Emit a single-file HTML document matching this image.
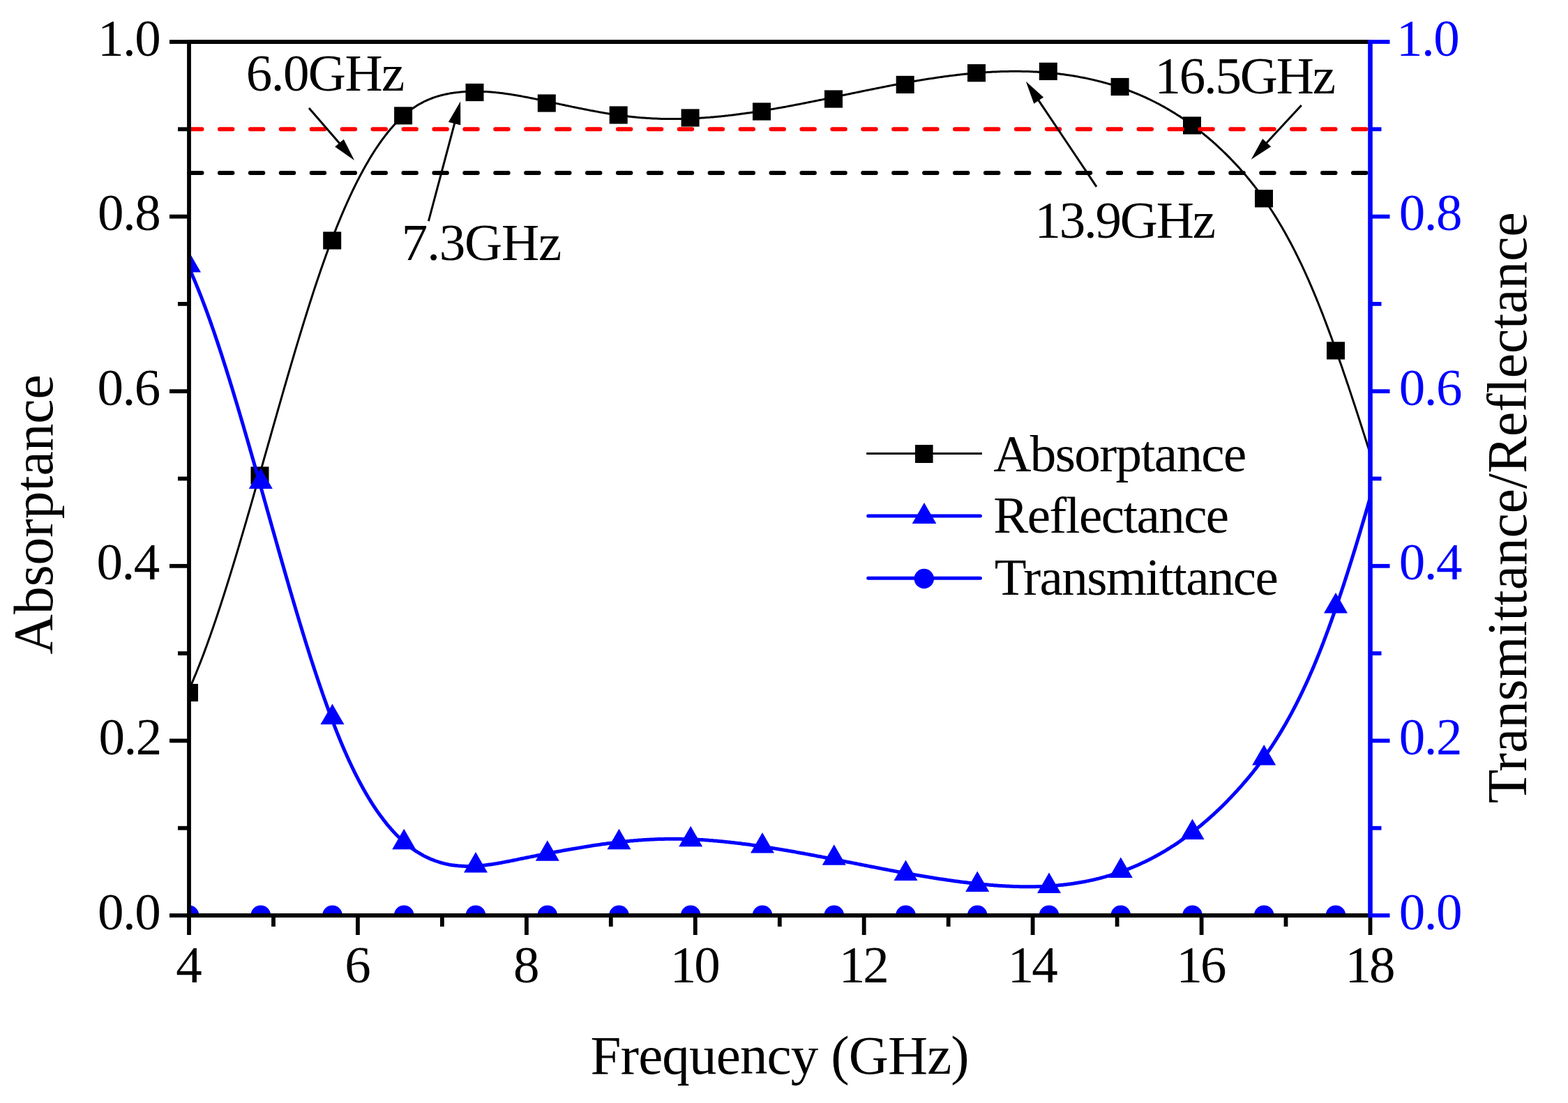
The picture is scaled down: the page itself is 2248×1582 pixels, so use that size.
<!DOCTYPE html>
<html><head><meta charset="utf-8"><style>html,body{margin:0;padding:0;background:#fff;width:2248px;height:1582px;overflow:hidden;position:relative}</style></head>
<body>
<svg width="2248" height="1582" viewBox="0 0 2248 1582" style="position:absolute;left:0;top:0;font-family:'Liberation Serif','Times New Roman',serif">
<defs><clipPath id="pc"><rect x="271.0" y="60.0" width="1693.5" height="1253.0"/></clipPath></defs>
<rect width="2248" height="1582" fill="#fff"/>
<g clip-path="url(#pc)">
<path d="M271.0,989.0 L272.5,985.7 L274.0,982.3 L275.5,978.8 L277.0,975.3 L278.5,971.7 L280.0,968.1 L281.5,964.5 L283.0,960.8 L284.5,957.0 L286.0,953.2 L287.5,949.4 L289.0,945.5 L290.5,941.6 L292.0,937.6 L293.5,933.6 L295.0,929.5 L296.5,925.4 L298.0,921.3 L299.5,917.1 L301.0,912.9 L302.5,908.6 L304.0,904.3 L305.5,900.0 L307.0,895.6 L308.5,891.2 L310.0,886.8 L311.5,882.3 L313.0,877.8 L314.5,873.2 L316.0,868.7 L317.5,864.0 L319.0,859.4 L320.5,854.7 L322.0,850.0 L323.5,845.3 L325.0,840.6 L326.5,835.8 L328.0,831.0 L329.5,826.1 L331.0,821.3 L332.5,816.4 L334.0,811.5 L335.5,806.5 L337.0,801.6 L338.5,796.6 L340.0,791.6 L341.5,786.6 L343.0,781.6 L344.5,776.5 L346.0,771.4 L347.5,766.4 L349.0,761.2 L350.5,756.1 L352.0,751.0 L353.5,745.8 L355.0,740.7 L356.5,735.5 L358.0,730.3 L359.5,725.1 L361.0,719.9 L362.5,714.7 L364.0,709.4 L365.5,704.2 L367.0,698.9 L368.5,693.7 L370.0,688.4 L371.5,683.1 L373.0,677.9 L374.5,672.6 L376.0,667.3 L377.5,662.0 L379.0,656.7 L380.5,651.4 L382.0,646.1 L383.5,640.8 L385.0,635.5 L386.5,630.3 L388.0,625.0 L389.5,619.7 L391.0,614.4 L392.5,609.1 L394.0,603.8 L395.5,598.6 L397.0,593.3 L398.5,588.0 L400.0,582.8 L401.5,577.6 L403.0,572.3 L404.5,567.1 L406.0,561.9 L407.5,556.7 L409.0,551.5 L410.5,546.3 L412.0,541.2 L413.5,536.0 L415.0,530.9 L416.5,525.8 L418.0,520.6 L419.5,515.6 L421.0,510.5 L422.5,505.4 L424.0,500.4 L425.5,495.4 L427.0,490.4 L428.5,485.4 L430.0,480.5 L431.5,475.5 L433.0,470.6 L434.5,465.8 L436.0,460.9 L437.5,456.1 L439.0,451.3 L440.5,446.5 L442.0,441.7 L443.5,437.0 L445.0,432.3 L446.5,427.7 L448.0,423.0 L449.5,418.4 L451.0,413.8 L452.5,409.3 L454.0,404.8 L455.5,400.3 L457.0,395.9 L458.5,391.5 L460.0,387.1 L461.5,382.8 L463.0,378.5 L464.5,374.2 L466.0,370.0 L467.5,365.8 L469.0,361.7 L470.5,357.6 L472.0,353.6 L473.5,349.5 L475.0,345.6 L476.5,341.6 L478.0,337.8 L479.5,333.9 L481.0,330.1 L482.5,326.3 L484.0,322.6 L485.5,318.9 L487.0,315.3 L488.5,311.7 L490.0,308.1 L491.5,304.6 L493.0,301.1 L494.5,297.7 L496.0,294.3 L497.5,290.9 L499.0,287.6 L500.5,284.3 L502.0,281.0 L503.5,277.8 L505.0,274.7 L506.5,271.5 L508.0,268.5 L509.5,265.4 L511.0,262.4 L512.5,259.4 L514.0,256.5 L515.5,253.6 L517.0,250.8 L518.5,247.9 L520.0,245.2 L521.5,242.4 L523.0,239.7 L524.5,237.1 L526.0,234.4 L527.5,231.9 L529.0,229.3 L530.5,226.8 L532.0,224.3 L533.5,221.9 L535.0,219.5 L536.5,217.1 L538.0,214.8 L539.5,212.5 L541.0,210.3 L542.5,208.1 L544.0,205.9 L545.5,203.8 L547.0,201.7 L548.5,199.6 L550.0,197.6 L551.5,195.6 L553.0,193.6 L554.5,191.7 L556.0,189.8 L557.5,188.0 L559.0,186.2 L560.5,184.4 L562.0,182.7 L563.5,181.0 L565.0,179.3 L566.5,177.7 L568.0,176.1 L569.5,174.5 L571.0,173.0 L572.5,171.5 L574.0,170.0 L575.5,168.6 L577.0,167.2 L578.5,165.9 L580.0,164.6 L581.5,163.3 L583.0,162.1 L584.5,160.8 L586.0,159.7 L587.5,158.5 L589.0,157.4 L590.5,156.3 L592.0,155.3 L593.5,154.2 L595.0,153.2 L596.5,152.3 L598.0,151.3 L599.5,150.4 L601.0,149.5 L602.5,148.7 L604.0,147.9 L605.5,147.1 L607.0,146.3 L608.5,145.5 L610.0,144.8 L611.5,144.1 L613.0,143.5 L614.5,142.8 L616.0,142.2 L617.5,141.6 L619.0,141.0 L620.5,140.4 L622.0,139.9 L623.5,139.4 L625.0,138.9 L626.5,138.4 L628.0,138.0 L629.5,137.5 L631.0,137.1 L632.5,136.7 L634.0,136.3 L635.5,136.0 L637.0,135.6 L638.5,135.3 L640.0,135.0 L641.5,134.7 L643.0,134.4 L644.5,134.1 L646.0,133.8 L647.5,133.6 L649.0,133.4 L650.5,133.1 L652.0,132.9 L653.5,132.7 L655.0,132.6 L656.5,132.4 L658.0,132.2 L659.5,132.1 L661.0,131.9 L662.5,131.8 L664.0,131.7 L665.5,131.6 L667.0,131.5 L668.5,131.4 L670.0,131.3 L671.5,131.3 L673.0,131.2 L674.5,131.1 L676.0,131.1 L677.5,131.1 L679.0,131.1 L680.5,131.1 L682.0,131.1 L683.5,131.1 L685.0,131.1 L686.5,131.1 L688.0,131.1 L689.5,131.2 L691.0,131.2 L692.5,131.3 L694.0,131.4 L695.5,131.4 L697.0,131.5 L698.5,131.6 L700.0,131.7 L701.5,131.8 L703.0,131.9 L704.5,132.0 L706.0,132.2 L707.5,132.3 L709.0,132.4 L710.5,132.6 L712.0,132.8 L713.5,132.9 L715.0,133.1 L716.5,133.3 L718.0,133.4 L719.5,133.6 L721.0,133.8 L722.5,134.0 L724.0,134.2 L725.5,134.4 L727.0,134.6 L728.5,134.9 L730.0,135.1 L731.5,135.3 L733.0,135.5 L734.5,135.8 L736.0,136.0 L737.5,136.3 L739.0,136.5 L740.5,136.8 L742.0,137.0 L743.5,137.3 L745.0,137.6 L746.5,137.8 L748.0,138.1 L749.5,138.4 L751.0,138.7 L752.5,138.9 L754.0,139.2 L755.5,139.5 L757.0,139.8 L758.5,140.1 L760.0,140.4 L761.5,140.7 L763.0,141.0 L764.5,141.3 L766.0,141.6 L767.5,141.9 L769.0,142.2 L770.5,142.5 L772.0,142.9 L773.5,143.2 L775.0,143.5 L776.5,143.8 L778.0,144.1 L779.5,144.4 L781.0,144.8 L782.5,145.1 L784.0,145.4 L785.5,145.7 L787.0,146.0 L788.5,146.4 L790.0,146.7 L791.5,147.0 L793.0,147.3 L794.5,147.6 L796.0,148.0 L797.5,148.3 L799.0,148.6 L800.5,148.9 L802.0,149.3 L803.5,149.6 L805.0,149.9 L806.5,150.2 L808.0,150.5 L809.5,150.8 L811.0,151.2 L812.5,151.5 L814.0,151.8 L815.5,152.1 L817.0,152.4 L818.5,152.7 L820.0,153.1 L821.5,153.4 L823.0,153.7 L824.5,154.0 L826.0,154.3 L827.5,154.6 L829.0,154.9 L830.5,155.2 L832.0,155.5 L833.5,155.8 L835.0,156.1 L836.5,156.4 L838.0,156.7 L839.5,157.0 L841.0,157.3 L842.5,157.6 L844.0,157.9 L845.5,158.2 L847.0,158.5 L848.5,158.7 L850.0,159.0 L851.5,159.3 L853.0,159.6 L854.5,159.9 L856.0,160.1 L857.5,160.4 L859.0,160.7 L860.5,160.9 L862.0,161.2 L863.5,161.5 L865.0,161.7 L866.5,162.0 L868.0,162.2 L869.5,162.5 L871.0,162.7 L872.5,163.0 L874.0,163.2 L875.5,163.5 L877.0,163.7 L878.5,163.9 L880.0,164.1 L881.5,164.4 L883.0,164.6 L884.5,164.8 L886.0,165.0 L887.5,165.2 L889.0,165.4 L890.5,165.7 L892.0,165.9 L893.5,166.1 L895.0,166.2 L896.5,166.4 L898.0,166.6 L899.5,166.8 L901.0,167.0 L902.5,167.2 L904.0,167.3 L905.5,167.5 L907.0,167.7 L908.5,167.8 L910.0,168.0 L911.5,168.1 L913.0,168.3 L914.5,168.4 L916.0,168.5 L917.5,168.7 L919.0,168.8 L920.5,168.9 L922.0,169.0 L923.5,169.1 L925.0,169.2 L926.5,169.3 L928.0,169.4 L929.5,169.5 L931.0,169.6 L932.5,169.7 L934.0,169.8 L935.5,169.9 L937.0,170.0 L938.5,170.0 L940.0,170.1 L941.5,170.1 L943.0,170.2 L944.5,170.3 L946.0,170.3 L947.5,170.4 L949.0,170.4 L950.5,170.4 L952.0,170.5 L953.5,170.5 L955.0,170.5 L956.5,170.5 L958.0,170.5 L959.5,170.6 L961.0,170.6 L962.5,170.6 L964.0,170.6 L965.5,170.6 L967.0,170.6 L968.5,170.6 L970.0,170.5 L971.5,170.5 L973.0,170.5 L974.5,170.5 L976.0,170.4 L977.5,170.4 L979.0,170.4 L980.5,170.3 L982.0,170.3 L983.5,170.3 L985.0,170.2 L986.5,170.1 L988.0,170.1 L989.5,170.0 L991.0,170.0 L992.5,169.9 L994.0,169.8 L995.5,169.8 L997.0,169.7 L998.5,169.6 L1000.0,169.5 L1001.5,169.4 L1003.0,169.3 L1004.5,169.2 L1006.0,169.1 L1007.5,169.0 L1009.0,168.9 L1010.5,168.8 L1012.0,168.7 L1013.5,168.6 L1015.0,168.5 L1016.5,168.4 L1018.0,168.3 L1019.5,168.1 L1021.0,168.0 L1022.5,167.9 L1024.0,167.7 L1025.5,167.6 L1027.0,167.5 L1028.5,167.3 L1030.0,167.2 L1031.5,167.0 L1033.0,166.9 L1034.5,166.7 L1036.0,166.6 L1037.5,166.4 L1039.0,166.3 L1040.5,166.1 L1042.0,165.9 L1043.5,165.8 L1045.0,165.6 L1046.5,165.4 L1048.0,165.2 L1049.5,165.1 L1051.0,164.9 L1052.5,164.7 L1054.0,164.5 L1055.5,164.3 L1057.0,164.1 L1058.5,163.9 L1060.0,163.7 L1061.5,163.5 L1063.0,163.3 L1064.5,163.1 L1066.0,162.9 L1067.5,162.7 L1069.0,162.5 L1070.5,162.3 L1072.0,162.1 L1073.5,161.9 L1075.0,161.7 L1076.5,161.4 L1078.0,161.2 L1079.5,161.0 L1081.0,160.8 L1082.5,160.5 L1084.0,160.3 L1085.5,160.1 L1087.0,159.8 L1088.5,159.6 L1090.0,159.4 L1091.5,159.1 L1093.0,158.9 L1094.5,158.6 L1096.0,158.4 L1097.5,158.2 L1099.0,157.9 L1100.5,157.7 L1102.0,157.4 L1103.5,157.1 L1105.0,156.9 L1106.5,156.6 L1108.0,156.4 L1109.5,156.1 L1111.0,155.9 L1112.5,155.6 L1114.0,155.3 L1115.5,155.1 L1117.0,154.8 L1118.5,154.5 L1120.0,154.3 L1121.5,154.0 L1123.0,153.7 L1124.5,153.4 L1126.0,153.2 L1127.5,152.9 L1129.0,152.6 L1130.5,152.3 L1132.0,152.0 L1133.5,151.8 L1135.0,151.5 L1136.5,151.2 L1138.0,150.9 L1139.5,150.6 L1141.0,150.3 L1142.5,150.0 L1144.0,149.8 L1145.5,149.5 L1147.0,149.2 L1148.5,148.9 L1150.0,148.6 L1151.5,148.3 L1153.0,148.0 L1154.5,147.7 L1156.0,147.4 L1157.5,147.1 L1159.0,146.8 L1160.5,146.5 L1162.0,146.2 L1163.5,145.9 L1165.0,145.6 L1166.5,145.3 L1168.0,145.0 L1169.5,144.7 L1171.0,144.4 L1172.5,144.1 L1174.0,143.8 L1175.5,143.5 L1177.0,143.2 L1178.5,142.9 L1180.0,142.6 L1181.5,142.2 L1183.0,141.9 L1184.5,141.6 L1186.0,141.3 L1187.5,141.0 L1189.0,140.7 L1190.5,140.4 L1192.0,140.1 L1193.5,139.8 L1195.0,139.5 L1196.5,139.1 L1198.0,138.8 L1199.5,138.5 L1201.0,138.2 L1202.5,137.9 L1204.0,137.6 L1205.5,137.3 L1207.0,137.0 L1208.5,136.6 L1210.0,136.3 L1211.5,136.0 L1213.0,135.7 L1214.5,135.4 L1216.0,135.1 L1217.5,134.8 L1219.0,134.5 L1220.5,134.1 L1222.0,133.8 L1223.5,133.5 L1225.0,133.2 L1226.5,132.9 L1228.0,132.6 L1229.5,132.3 L1231.0,132.0 L1232.5,131.7 L1234.0,131.3 L1235.5,131.0 L1237.0,130.7 L1238.5,130.4 L1240.0,130.1 L1241.5,129.8 L1243.0,129.5 L1244.5,129.2 L1246.0,128.9 L1247.5,128.6 L1249.0,128.3 L1250.5,128.0 L1252.0,127.7 L1253.5,127.4 L1255.0,127.1 L1256.5,126.8 L1258.0,126.5 L1259.5,126.2 L1261.0,125.9 L1262.5,125.6 L1264.0,125.3 L1265.5,125.0 L1267.0,124.7 L1268.5,124.4 L1270.0,124.1 L1271.5,123.8 L1273.0,123.5 L1274.5,123.2 L1276.0,122.9 L1277.5,122.6 L1279.0,122.3 L1280.5,122.1 L1282.0,121.8 L1283.5,121.5 L1285.0,121.2 L1286.5,120.9 L1288.0,120.6 L1289.5,120.4 L1291.0,120.1 L1292.5,119.8 L1294.0,119.5 L1295.5,119.3 L1297.0,119.0 L1298.5,118.7 L1300.0,118.4 L1301.5,118.2 L1303.0,117.9 L1304.5,117.6 L1306.0,117.4 L1307.5,117.1 L1309.0,116.8 L1310.5,116.6 L1312.0,116.3 L1313.5,116.1 L1315.0,115.8 L1316.5,115.6 L1318.0,115.3 L1319.5,115.1 L1321.0,114.8 L1322.5,114.6 L1324.0,114.3 L1325.5,114.1 L1327.0,113.8 L1328.5,113.6 L1330.0,113.3 L1331.5,113.1 L1333.0,112.9 L1334.5,112.6 L1336.0,112.4 L1337.5,112.2 L1339.0,112.0 L1340.5,111.7 L1342.0,111.5 L1343.5,111.3 L1345.0,111.1 L1346.5,110.9 L1348.0,110.6 L1349.5,110.4 L1351.0,110.2 L1352.5,110.0 L1354.0,109.8 L1355.5,109.6 L1357.0,109.4 L1358.5,109.2 L1360.0,109.0 L1361.5,108.8 L1363.0,108.6 L1364.5,108.4 L1366.0,108.2 L1367.5,108.1 L1369.0,107.9 L1370.5,107.7 L1372.0,107.5 L1373.5,107.3 L1375.0,107.2 L1376.5,107.0 L1378.0,106.8 L1379.5,106.7 L1381.0,106.5 L1382.5,106.3 L1384.0,106.2 L1385.5,106.0 L1387.0,105.9 L1388.5,105.7 L1390.0,105.6 L1391.5,105.4 L1393.0,105.3 L1394.5,105.2 L1396.0,105.0 L1397.5,104.9 L1399.0,104.8 L1400.5,104.7 L1402.0,104.5 L1403.5,104.4 L1405.0,104.3 L1406.5,104.2 L1408.0,104.1 L1409.5,104.0 L1411.0,103.9 L1412.5,103.8 L1414.0,103.7 L1415.5,103.6 L1417.0,103.5 L1418.5,103.4 L1420.0,103.3 L1421.5,103.2 L1423.0,103.1 L1424.5,103.1 L1426.0,103.0 L1427.5,102.9 L1429.0,102.9 L1430.5,102.8 L1432.0,102.7 L1433.5,102.7 L1435.0,102.6 L1436.5,102.6 L1438.0,102.5 L1439.5,102.5 L1441.0,102.5 L1442.5,102.4 L1444.0,102.4 L1445.5,102.4 L1447.0,102.3 L1448.5,102.3 L1450.0,102.3 L1451.5,102.3 L1453.0,102.3 L1454.5,102.3 L1456.0,102.3 L1457.5,102.3 L1459.0,102.3 L1460.5,102.3 L1462.0,102.3 L1463.5,102.3 L1465.0,102.4 L1466.5,102.4 L1468.0,102.4 L1469.5,102.5 L1471.0,102.5 L1472.5,102.5 L1474.0,102.6 L1475.5,102.6 L1477.0,102.7 L1478.5,102.8 L1480.0,102.8 L1481.5,102.9 L1483.0,103.0 L1484.5,103.0 L1486.0,103.1 L1487.5,103.2 L1489.0,103.3 L1490.5,103.4 L1492.0,103.5 L1493.5,103.6 L1495.0,103.7 L1496.5,103.8 L1498.0,103.9 L1499.5,104.0 L1501.0,104.2 L1502.5,104.3 L1504.0,104.4 L1505.5,104.6 L1507.0,104.7 L1508.5,104.8 L1510.0,105.0 L1511.5,105.2 L1513.0,105.3 L1514.5,105.5 L1516.0,105.7 L1517.5,105.8 L1519.0,106.0 L1520.5,106.2 L1522.0,106.4 L1523.5,106.6 L1525.0,106.8 L1526.5,107.0 L1528.0,107.2 L1529.5,107.4 L1531.0,107.6 L1532.5,107.9 L1534.0,108.1 L1535.5,108.3 L1537.0,108.6 L1538.5,108.8 L1540.0,109.0 L1541.5,109.3 L1543.0,109.6 L1544.5,109.8 L1546.0,110.1 L1547.5,110.4 L1549.0,110.7 L1550.5,110.9 L1552.0,111.2 L1553.5,111.5 L1555.0,111.8 L1556.5,112.1 L1558.0,112.4 L1559.5,112.8 L1561.0,113.1 L1562.5,113.4 L1564.0,113.8 L1565.5,114.1 L1567.0,114.4 L1568.5,114.8 L1570.0,115.1 L1571.5,115.5 L1573.0,115.9 L1574.5,116.2 L1576.0,116.6 L1577.5,117.0 L1579.0,117.4 L1580.5,117.8 L1582.0,118.2 L1583.5,118.6 L1585.0,119.0 L1586.5,119.4 L1588.0,119.9 L1589.5,120.3 L1591.0,120.7 L1592.5,121.2 L1594.0,121.6 L1595.5,122.1 L1597.0,122.6 L1598.5,123.0 L1600.0,123.5 L1601.5,124.0 L1603.0,124.5 L1604.5,125.0 L1606.0,125.5 L1607.5,126.0 L1609.0,126.5 L1610.5,127.0 L1612.0,127.6 L1613.5,128.1 L1615.0,128.6 L1616.5,129.2 L1618.0,129.7 L1619.5,130.3 L1621.0,130.9 L1622.5,131.5 L1624.0,132.1 L1625.5,132.7 L1627.0,133.3 L1628.5,133.9 L1630.0,134.5 L1631.5,135.1 L1633.0,135.7 L1634.5,136.4 L1636.0,137.0 L1637.5,137.7 L1639.0,138.4 L1640.5,139.0 L1642.0,139.7 L1643.5,140.4 L1645.0,141.1 L1646.5,141.8 L1648.0,142.5 L1649.5,143.2 L1651.0,144.0 L1652.5,144.7 L1654.0,145.5 L1655.5,146.2 L1657.0,147.0 L1658.5,147.8 L1660.0,148.5 L1661.5,149.3 L1663.0,150.1 L1664.5,151.0 L1666.0,151.8 L1667.5,152.6 L1669.0,153.4 L1670.5,154.3 L1672.0,155.1 L1673.5,156.0 L1675.0,156.9 L1676.5,157.8 L1678.0,158.7 L1679.5,159.6 L1681.0,160.5 L1682.5,161.4 L1684.0,162.3 L1685.5,163.3 L1687.0,164.2 L1688.5,165.2 L1690.0,166.1 L1691.5,167.1 L1693.0,168.1 L1694.5,169.1 L1696.0,170.1 L1697.5,171.1 L1699.0,172.2 L1700.5,173.2 L1702.0,174.3 L1703.5,175.3 L1705.0,176.4 L1706.5,177.5 L1708.0,178.6 L1709.5,179.7 L1711.0,180.8 L1712.5,181.9 L1714.0,183.0 L1715.5,184.2 L1717.0,185.3 L1718.5,186.5 L1720.0,187.7 L1721.5,188.9 L1723.0,190.1 L1724.5,191.3 L1726.0,192.5 L1727.5,193.8 L1729.0,195.0 L1730.5,196.3 L1732.0,197.5 L1733.5,198.8 L1735.0,200.1 L1736.5,201.4 L1738.0,202.7 L1739.5,204.0 L1741.0,205.4 L1742.5,206.7 L1744.0,208.1 L1745.5,209.5 L1747.0,210.9 L1748.5,212.3 L1750.0,213.7 L1751.5,215.1 L1753.0,216.5 L1754.5,218.0 L1756.0,219.4 L1757.5,220.9 L1759.0,222.4 L1760.5,223.9 L1762.0,225.4 L1763.5,226.9 L1765.0,228.5 L1766.5,230.0 L1768.0,231.6 L1769.5,233.2 L1771.0,234.8 L1772.5,236.4 L1774.0,238.0 L1775.5,239.6 L1777.0,241.3 L1778.5,243.0 L1780.0,244.7 L1781.5,246.4 L1783.0,248.1 L1784.5,249.9 L1786.0,251.6 L1787.5,253.4 L1789.0,255.2 L1790.5,257.0 L1792.0,258.9 L1793.5,260.7 L1795.0,262.6 L1796.5,264.5 L1798.0,266.4 L1799.5,268.4 L1801.0,270.3 L1802.5,272.3 L1804.0,274.3 L1805.5,276.3 L1807.0,278.4 L1808.5,280.5 L1810.0,282.6 L1811.5,284.7 L1813.0,286.8 L1814.5,289.0 L1816.0,291.2 L1817.5,293.4 L1819.0,295.6 L1820.5,297.9 L1822.0,300.2 L1823.5,302.5 L1825.0,304.8 L1826.5,307.2 L1828.0,309.6 L1829.5,312.0 L1831.0,314.4 L1832.5,316.9 L1834.0,319.4 L1835.5,321.9 L1837.0,324.5 L1838.5,327.1 L1840.0,329.7 L1841.5,332.3 L1843.0,335.0 L1844.5,337.7 L1846.0,340.4 L1847.5,343.2 L1849.0,346.0 L1850.5,348.8 L1852.0,351.6 L1853.5,354.5 L1855.0,357.4 L1856.5,360.4 L1858.0,363.3 L1859.5,366.4 L1861.0,369.4 L1862.5,372.5 L1864.0,375.6 L1865.5,378.7 L1867.0,381.9 L1868.5,385.1 L1870.0,388.4 L1871.5,391.7 L1873.0,395.0 L1874.5,398.3 L1876.0,401.7 L1877.5,405.1 L1879.0,408.6 L1880.5,412.1 L1882.0,415.6 L1883.5,419.2 L1885.0,422.8 L1886.5,426.4 L1888.0,430.1 L1889.5,433.8 L1891.0,437.5 L1892.5,441.3 L1894.0,445.1 L1895.5,448.9 L1897.0,452.8 L1898.5,456.7 L1900.0,460.6 L1901.5,464.6 L1903.0,468.6 L1904.5,472.6 L1906.0,476.6 L1907.5,480.7 L1909.0,484.8 L1910.5,488.9 L1912.0,493.1 L1913.5,497.2 L1915.0,501.4 L1916.5,505.7 L1918.0,509.9 L1919.5,514.2 L1921.0,518.5 L1922.5,522.8 L1924.0,527.1 L1925.5,531.5 L1927.0,535.9 L1928.5,540.3 L1930.0,544.7 L1931.5,549.2 L1933.0,553.6 L1934.5,558.1 L1936.0,562.6 L1937.5,567.1 L1939.0,571.7 L1940.5,576.2 L1942.0,580.8 L1943.5,585.4 L1945.0,590.0 L1946.5,594.6 L1948.0,599.2 L1949.5,603.9 L1951.0,608.5 L1952.5,613.2 L1954.0,617.9 L1955.5,622.6 L1957.0,627.3 L1958.5,632.0 L1960.0,636.8 L1961.5,641.5 L1963.0,646.2 L1964.5,651.0" fill="none" stroke="#000" stroke-width="3" stroke-linejoin="round"/>
<rect x="258.0" y="980.9" width="26" height="25.2" fill="#000"/>
<rect x="359.5" y="669.4" width="26" height="25.2" fill="#000"/>
<rect x="463.2" y="332.4" width="26" height="25.2" fill="#000"/>
<rect x="565.1" y="153.3" width="26" height="25.2" fill="#000"/>
<rect x="667.5" y="119.9" width="26" height="25.2" fill="#000"/>
<rect x="770.8" y="135.4" width="26" height="25.2" fill="#000"/>
<rect x="873.7" y="152.4" width="26" height="25.2" fill="#000"/>
<rect x="976.6" y="156.4" width="26" height="25.2" fill="#000"/>
<rect x="1079.0" y="147.4" width="26" height="25.2" fill="#000"/>
<rect x="1182.0" y="129.4" width="26" height="25.2" fill="#000"/>
<rect x="1284.7" y="108.8" width="26" height="25.2" fill="#000"/>
<rect x="1387.0" y="92.1" width="26" height="25.2" fill="#000"/>
<rect x="1489.8" y="89.8" width="26" height="25.2" fill="#000"/>
<rect x="1592.6" y="111.9" width="26" height="25.2" fill="#000"/>
<rect x="1696.0" y="167.4" width="26" height="25.2" fill="#000"/>
<rect x="1799.0" y="272.2" width="26" height="25.2" fill="#000"/>
<rect x="1902.0" y="490.3" width="26" height="25.2" fill="#000"/>
<path d="M271.0,384.3 L272.5,387.6 L274.0,390.9 L275.5,394.3 L277.0,397.8 L278.5,401.3 L280.0,404.8 L281.5,408.4 L283.0,412.1 L284.5,415.8 L286.0,419.6 L287.5,423.4 L289.0,427.2 L290.5,431.1 L292.0,435.1 L293.5,439.0 L295.0,443.1 L296.5,447.2 L298.0,451.3 L299.5,455.4 L301.0,459.6 L302.5,463.9 L304.0,468.2 L305.5,472.5 L307.0,476.8 L308.5,481.2 L310.0,485.7 L311.5,490.1 L313.0,494.6 L314.5,499.2 L316.0,503.8 L317.5,508.4 L319.0,513.0 L320.5,517.7 L322.0,522.4 L323.5,527.1 L325.0,531.9 L326.5,536.7 L328.0,541.5 L329.5,546.3 L331.0,551.2 L332.5,556.1 L334.0,561.0 L335.5,566.0 L337.0,570.9 L338.5,575.9 L340.0,580.9 L341.5,586.0 L343.0,591.0 L344.5,596.1 L346.0,601.2 L347.5,606.3 L349.0,611.4 L350.5,616.6 L352.0,621.7 L353.5,626.9 L355.0,632.1 L356.5,637.3 L358.0,642.5 L359.5,647.8 L361.0,653.0 L362.5,658.3 L364.0,663.5 L365.5,668.8 L367.0,674.1 L368.5,679.4 L370.0,684.7 L371.5,690.0 L373.0,695.3 L374.5,700.6 L376.0,705.9 L377.5,711.2 L379.0,716.6 L380.5,721.9 L382.0,727.2 L383.5,732.6 L385.0,737.9 L386.5,743.2 L388.0,748.5 L389.5,753.9 L391.0,759.2 L392.5,764.5 L394.0,769.8 L395.5,775.1 L397.0,780.4 L398.5,785.7 L400.0,791.0 L401.5,796.3 L403.0,801.5 L404.5,806.8 L406.0,812.0 L407.5,817.3 L409.0,822.5 L410.5,827.7 L412.0,832.9 L413.5,838.1 L415.0,843.2 L416.5,848.4 L418.0,853.5 L419.5,858.6 L421.0,863.7 L422.5,868.8 L424.0,873.9 L425.5,878.9 L427.0,883.9 L428.5,888.9 L430.0,893.9 L431.5,898.8 L433.0,903.8 L434.5,908.7 L436.0,913.5 L437.5,918.4 L439.0,923.2 L440.5,928.0 L442.0,932.8 L443.5,937.5 L445.0,942.2 L446.5,946.9 L448.0,951.5 L449.5,956.1 L451.0,960.7 L452.5,965.3 L454.0,969.8 L455.5,974.3 L457.0,978.7 L458.5,983.1 L460.0,987.5 L461.5,991.9 L463.0,996.2 L464.5,1000.5 L466.0,1004.7 L467.5,1008.9 L469.0,1013.1 L470.5,1017.2 L472.0,1021.3 L473.5,1025.3 L475.0,1029.3 L476.5,1033.3 L478.0,1037.2 L479.5,1041.1 L481.0,1045.0 L482.5,1048.8 L484.0,1052.6 L485.5,1056.3 L487.0,1060.0 L488.5,1063.6 L490.0,1067.2 L491.5,1070.7 L493.0,1074.2 L494.5,1077.7 L496.0,1081.1 L497.5,1084.5 L499.0,1087.8 L500.5,1091.1 L502.0,1094.3 L503.5,1097.5 L505.0,1100.6 L506.5,1103.7 L508.0,1106.8 L509.5,1109.8 L511.0,1112.8 L512.5,1115.7 L514.0,1118.6 L515.5,1121.5 L517.0,1124.3 L518.5,1127.0 L520.0,1129.8 L521.5,1132.5 L523.0,1135.1 L524.5,1137.7 L526.0,1140.3 L527.5,1142.8 L529.0,1145.3 L530.5,1147.7 L532.0,1150.1 L533.5,1152.5 L535.0,1154.8 L536.5,1157.1 L538.0,1159.4 L539.5,1161.6 L541.0,1163.8 L542.5,1165.9 L544.0,1168.0 L545.5,1170.1 L547.0,1172.1 L548.5,1174.1 L550.0,1176.1 L551.5,1178.0 L553.0,1179.9 L554.5,1181.8 L556.0,1183.6 L557.5,1185.4 L559.0,1187.1 L560.5,1188.9 L562.0,1190.5 L563.5,1192.2 L565.0,1193.8 L566.5,1195.4 L568.0,1197.0 L569.5,1198.5 L571.0,1200.0 L572.5,1201.4 L574.0,1202.9 L575.5,1204.3 L577.0,1205.7 L578.5,1207.0 L580.0,1208.3 L581.5,1209.6 L583.0,1210.8 L584.5,1212.1 L586.0,1213.2 L587.5,1214.4 L589.0,1215.5 L590.5,1216.7 L592.0,1217.7 L593.5,1218.8 L595.0,1219.8 L596.5,1220.8 L598.0,1221.8 L599.5,1222.7 L601.0,1223.6 L602.5,1224.5 L604.0,1225.4 L605.5,1226.2 L607.0,1227.1 L608.5,1227.9 L610.0,1228.6 L611.5,1229.4 L613.0,1230.1 L614.5,1230.8 L616.0,1231.5 L617.5,1232.1 L619.0,1232.7 L620.5,1233.3 L622.0,1233.9 L623.5,1234.5 L625.0,1235.0 L626.5,1235.5 L628.0,1236.0 L629.5,1236.5 L631.0,1237.0 L632.5,1237.4 L634.0,1237.8 L635.5,1238.2 L637.0,1238.6 L638.5,1238.9 L640.0,1239.3 L641.5,1239.6 L643.0,1239.9 L644.5,1240.2 L646.0,1240.4 L647.5,1240.7 L649.0,1240.9 L650.5,1241.1 L652.0,1241.3 L653.5,1241.5 L655.0,1241.6 L656.5,1241.8 L658.0,1241.9 L659.5,1242.0 L661.0,1242.1 L662.5,1242.2 L664.0,1242.3 L665.5,1242.3 L667.0,1242.4 L668.5,1242.4 L670.0,1242.4 L671.5,1242.4 L673.0,1242.4 L674.5,1242.4 L676.0,1242.4 L677.5,1242.3 L679.0,1242.3 L680.5,1242.2 L682.0,1242.1 L683.5,1242.0 L685.0,1241.9 L686.5,1241.8 L688.0,1241.7 L689.5,1241.5 L691.0,1241.4 L692.5,1241.2 L694.0,1241.1 L695.5,1240.9 L697.0,1240.7 L698.5,1240.5 L700.0,1240.3 L701.5,1240.1 L703.0,1239.9 L704.5,1239.7 L706.0,1239.5 L707.5,1239.2 L709.0,1239.0 L710.5,1238.8 L712.0,1238.5 L713.5,1238.3 L715.0,1238.0 L716.5,1237.7 L718.0,1237.5 L719.5,1237.2 L721.0,1236.9 L722.5,1236.6 L724.0,1236.3 L725.5,1236.1 L727.0,1235.8 L728.5,1235.5 L730.0,1235.2 L731.5,1234.9 L733.0,1234.6 L734.5,1234.3 L736.0,1234.0 L737.5,1233.7 L739.0,1233.4 L740.5,1233.1 L742.0,1232.7 L743.5,1232.4 L745.0,1232.1 L746.5,1231.8 L748.0,1231.5 L749.5,1231.2 L751.0,1230.9 L752.5,1230.6 L754.0,1230.3 L755.5,1230.0 L757.0,1229.7 L758.5,1229.4 L760.0,1229.1 L761.5,1228.8 L763.0,1228.5 L764.5,1228.2 L766.0,1227.9 L767.5,1227.6 L769.0,1227.3 L770.5,1227.0 L772.0,1226.7 L773.5,1226.4 L775.0,1226.1 L776.5,1225.8 L778.0,1225.5 L779.5,1225.2 L781.0,1224.9 L782.5,1224.6 L784.0,1224.4 L785.5,1224.1 L787.0,1223.8 L788.5,1223.5 L790.0,1223.2 L791.5,1222.9 L793.0,1222.6 L794.5,1222.3 L796.0,1222.1 L797.5,1221.8 L799.0,1221.5 L800.5,1221.2 L802.0,1220.9 L803.5,1220.7 L805.0,1220.4 L806.5,1220.1 L808.0,1219.8 L809.5,1219.6 L811.0,1219.3 L812.5,1219.0 L814.0,1218.8 L815.5,1218.5 L817.0,1218.2 L818.5,1218.0 L820.0,1217.7 L821.5,1217.4 L823.0,1217.2 L824.5,1216.9 L826.0,1216.7 L827.5,1216.4 L829.0,1216.2 L830.5,1215.9 L832.0,1215.7 L833.5,1215.4 L835.0,1215.2 L836.5,1214.9 L838.0,1214.7 L839.5,1214.4 L841.0,1214.2 L842.5,1214.0 L844.0,1213.7 L845.5,1213.5 L847.0,1213.2 L848.5,1213.0 L850.0,1212.8 L851.5,1212.6 L853.0,1212.3 L854.5,1212.1 L856.0,1211.9 L857.5,1211.7 L859.0,1211.5 L860.5,1211.3 L862.0,1211.0 L863.5,1210.8 L865.0,1210.6 L866.5,1210.4 L868.0,1210.2 L869.5,1210.0 L871.0,1209.8 L872.5,1209.6 L874.0,1209.4 L875.5,1209.2 L877.0,1209.1 L878.5,1208.9 L880.0,1208.7 L881.5,1208.5 L883.0,1208.3 L884.5,1208.2 L886.0,1208.0 L887.5,1207.8 L889.0,1207.7 L890.5,1207.5 L892.0,1207.3 L893.5,1207.2 L895.0,1207.0 L896.5,1206.9 L898.0,1206.7 L899.5,1206.6 L901.0,1206.4 L902.5,1206.3 L904.0,1206.1 L905.5,1206.0 L907.0,1205.9 L908.5,1205.7 L910.0,1205.6 L911.5,1205.5 L913.0,1205.4 L914.5,1205.2 L916.0,1205.1 L917.5,1205.0 L919.0,1204.9 L920.5,1204.8 L922.0,1204.7 L923.5,1204.6 L925.0,1204.5 L926.5,1204.4 L928.0,1204.3 L929.5,1204.2 L931.0,1204.2 L932.5,1204.1 L934.0,1204.0 L935.5,1203.9 L937.0,1203.9 L938.5,1203.8 L940.0,1203.7 L941.5,1203.7 L943.0,1203.6 L944.5,1203.6 L946.0,1203.5 L947.5,1203.5 L949.0,1203.4 L950.5,1203.4 L952.0,1203.4 L953.5,1203.3 L955.0,1203.3 L956.5,1203.3 L958.0,1203.3 L959.5,1203.3 L961.0,1203.2 L962.5,1203.2 L964.0,1203.2 L965.5,1203.2 L967.0,1203.2 L968.5,1203.2 L970.0,1203.3 L971.5,1203.3 L973.0,1203.3 L974.5,1203.3 L976.0,1203.3 L977.5,1203.4 L979.0,1203.4 L980.5,1203.4 L982.0,1203.5 L983.5,1203.5 L985.0,1203.6 L986.5,1203.6 L988.0,1203.7 L989.5,1203.7 L991.0,1203.8 L992.5,1203.8 L994.0,1203.9 L995.5,1204.0 L997.0,1204.0 L998.5,1204.1 L1000.0,1204.2 L1001.5,1204.3 L1003.0,1204.4 L1004.5,1204.5 L1006.0,1204.5 L1007.5,1204.6 L1009.0,1204.7 L1010.5,1204.8 L1012.0,1204.9 L1013.5,1205.0 L1015.0,1205.1 L1016.5,1205.3 L1018.0,1205.4 L1019.5,1205.5 L1021.0,1205.6 L1022.5,1205.7 L1024.0,1205.9 L1025.5,1206.0 L1027.0,1206.1 L1028.5,1206.2 L1030.0,1206.4 L1031.5,1206.5 L1033.0,1206.7 L1034.5,1206.8 L1036.0,1206.9 L1037.5,1207.1 L1039.0,1207.2 L1040.5,1207.4 L1042.0,1207.6 L1043.5,1207.7 L1045.0,1207.9 L1046.5,1208.0 L1048.0,1208.2 L1049.5,1208.4 L1051.0,1208.5 L1052.5,1208.7 L1054.0,1208.9 L1055.5,1209.1 L1057.0,1209.2 L1058.5,1209.4 L1060.0,1209.6 L1061.5,1209.8 L1063.0,1210.0 L1064.5,1210.2 L1066.0,1210.4 L1067.5,1210.5 L1069.0,1210.7 L1070.5,1210.9 L1072.0,1211.1 L1073.5,1211.3 L1075.0,1211.5 L1076.5,1211.8 L1078.0,1212.0 L1079.5,1212.2 L1081.0,1212.4 L1082.5,1212.6 L1084.0,1212.8 L1085.5,1213.0 L1087.0,1213.2 L1088.5,1213.5 L1090.0,1213.7 L1091.5,1213.9 L1093.0,1214.1 L1094.5,1214.4 L1096.0,1214.6 L1097.5,1214.8 L1099.0,1215.1 L1100.5,1215.3 L1102.0,1215.5 L1103.5,1215.8 L1105.0,1216.0 L1106.5,1216.2 L1108.0,1216.5 L1109.5,1216.7 L1111.0,1217.0 L1112.5,1217.2 L1114.0,1217.5 L1115.5,1217.7 L1117.0,1218.0 L1118.5,1218.2 L1120.0,1218.5 L1121.5,1218.7 L1123.0,1219.0 L1124.5,1219.2 L1126.0,1219.5 L1127.5,1219.7 L1129.0,1220.0 L1130.5,1220.3 L1132.0,1220.5 L1133.5,1220.8 L1135.0,1221.0 L1136.5,1221.3 L1138.0,1221.6 L1139.5,1221.8 L1141.0,1222.1 L1142.5,1222.4 L1144.0,1222.7 L1145.5,1222.9 L1147.0,1223.2 L1148.5,1223.5 L1150.0,1223.7 L1151.5,1224.0 L1153.0,1224.3 L1154.5,1224.6 L1156.0,1224.9 L1157.5,1225.1 L1159.0,1225.4 L1160.5,1225.7 L1162.0,1226.0 L1163.5,1226.3 L1165.0,1226.5 L1166.5,1226.8 L1168.0,1227.1 L1169.5,1227.4 L1171.0,1227.7 L1172.5,1228.0 L1174.0,1228.2 L1175.5,1228.5 L1177.0,1228.8 L1178.5,1229.1 L1180.0,1229.4 L1181.5,1229.7 L1183.0,1230.0 L1184.5,1230.3 L1186.0,1230.6 L1187.5,1230.9 L1189.0,1231.1 L1190.5,1231.4 L1192.0,1231.7 L1193.5,1232.0 L1195.0,1232.3 L1196.5,1232.6 L1198.0,1232.9 L1199.5,1233.2 L1201.0,1233.5 L1202.5,1233.8 L1204.0,1234.1 L1205.5,1234.4 L1207.0,1234.7 L1208.5,1235.0 L1210.0,1235.3 L1211.5,1235.6 L1213.0,1235.9 L1214.5,1236.2 L1216.0,1236.5 L1217.5,1236.8 L1219.0,1237.1 L1220.5,1237.3 L1222.0,1237.6 L1223.5,1237.9 L1225.0,1238.2 L1226.5,1238.5 L1228.0,1238.8 L1229.5,1239.1 L1231.0,1239.4 L1232.5,1239.7 L1234.0,1240.0 L1235.5,1240.3 L1237.0,1240.6 L1238.5,1240.9 L1240.0,1241.2 L1241.5,1241.5 L1243.0,1241.8 L1244.5,1242.1 L1246.0,1242.4 L1247.5,1242.7 L1249.0,1243.0 L1250.5,1243.3 L1252.0,1243.6 L1253.5,1243.8 L1255.0,1244.1 L1256.5,1244.4 L1258.0,1244.7 L1259.5,1245.0 L1261.0,1245.3 L1262.5,1245.6 L1264.0,1245.9 L1265.5,1246.2 L1267.0,1246.5 L1268.5,1246.8 L1270.0,1247.0 L1271.5,1247.3 L1273.0,1247.6 L1274.5,1247.9 L1276.0,1248.2 L1277.5,1248.5 L1279.0,1248.7 L1280.5,1249.0 L1282.0,1249.3 L1283.5,1249.6 L1285.0,1249.9 L1286.5,1250.2 L1288.0,1250.4 L1289.5,1250.7 L1291.0,1251.0 L1292.5,1251.3 L1294.0,1251.5 L1295.5,1251.8 L1297.0,1252.1 L1298.5,1252.4 L1300.0,1252.6 L1301.5,1252.9 L1303.0,1253.2 L1304.5,1253.4 L1306.0,1253.7 L1307.5,1254.0 L1309.0,1254.2 L1310.5,1254.5 L1312.0,1254.8 L1313.5,1255.0 L1315.0,1255.3 L1316.5,1255.5 L1318.0,1255.8 L1319.5,1256.0 L1321.0,1256.3 L1322.5,1256.6 L1324.0,1256.8 L1325.5,1257.1 L1327.0,1257.3 L1328.5,1257.6 L1330.0,1257.8 L1331.5,1258.0 L1333.0,1258.3 L1334.5,1258.5 L1336.0,1258.8 L1337.5,1259.0 L1339.0,1259.3 L1340.5,1259.5 L1342.0,1259.7 L1343.5,1260.0 L1345.0,1260.2 L1346.5,1260.4 L1348.0,1260.7 L1349.5,1260.9 L1351.0,1261.1 L1352.5,1261.3 L1354.0,1261.6 L1355.5,1261.8 L1357.0,1262.0 L1358.5,1262.2 L1360.0,1262.4 L1361.5,1262.6 L1363.0,1262.9 L1364.5,1263.1 L1366.0,1263.3 L1367.5,1263.5 L1369.0,1263.7 L1370.5,1263.9 L1372.0,1264.1 L1373.5,1264.3 L1375.0,1264.5 L1376.5,1264.7 L1378.0,1264.9 L1379.5,1265.1 L1381.0,1265.2 L1382.5,1265.4 L1384.0,1265.6 L1385.5,1265.8 L1387.0,1266.0 L1388.5,1266.2 L1390.0,1266.3 L1391.5,1266.5 L1393.0,1266.7 L1394.5,1266.9 L1396.0,1267.0 L1397.5,1267.2 L1399.0,1267.3 L1400.5,1267.5 L1402.0,1267.7 L1403.5,1267.8 L1405.0,1268.0 L1406.5,1268.1 L1408.0,1268.3 L1409.5,1268.4 L1411.0,1268.6 L1412.5,1268.7 L1414.0,1268.8 L1415.5,1269.0 L1417.0,1269.1 L1418.5,1269.2 L1420.0,1269.4 L1421.5,1269.5 L1423.0,1269.6 L1424.5,1269.7 L1426.0,1269.9 L1427.5,1270.0 L1429.0,1270.1 L1430.5,1270.2 L1432.0,1270.3 L1433.5,1270.4 L1435.0,1270.5 L1436.5,1270.6 L1438.0,1270.7 L1439.5,1270.8 L1441.0,1270.8 L1442.5,1270.9 L1444.0,1271.0 L1445.5,1271.1 L1447.0,1271.1 L1448.5,1271.2 L1450.0,1271.3 L1451.5,1271.3 L1453.0,1271.4 L1454.5,1271.4 L1456.0,1271.5 L1457.5,1271.5 L1459.0,1271.6 L1460.5,1271.6 L1462.0,1271.7 L1463.5,1271.7 L1465.0,1271.7 L1466.5,1271.7 L1468.0,1271.7 L1469.5,1271.8 L1471.0,1271.8 L1472.5,1271.8 L1474.0,1271.8 L1475.5,1271.8 L1477.0,1271.8 L1478.5,1271.8 L1480.0,1271.7 L1481.5,1271.7 L1483.0,1271.7 L1484.5,1271.7 L1486.0,1271.6 L1487.5,1271.6 L1489.0,1271.5 L1490.5,1271.5 L1492.0,1271.4 L1493.5,1271.4 L1495.0,1271.3 L1496.5,1271.3 L1498.0,1271.2 L1499.5,1271.1 L1501.0,1271.0 L1502.5,1270.9 L1504.0,1270.8 L1505.5,1270.8 L1507.0,1270.7 L1508.5,1270.5 L1510.0,1270.4 L1511.5,1270.3 L1513.0,1270.2 L1514.5,1270.1 L1516.0,1269.9 L1517.5,1269.8 L1519.0,1269.6 L1520.5,1269.5 L1522.0,1269.3 L1523.5,1269.2 L1525.0,1269.0 L1526.5,1268.8 L1528.0,1268.7 L1529.5,1268.5 L1531.0,1268.3 L1532.5,1268.1 L1534.0,1267.9 L1535.5,1267.7 L1537.0,1267.5 L1538.5,1267.3 L1540.0,1267.0 L1541.5,1266.8 L1543.0,1266.6 L1544.5,1266.3 L1546.0,1266.1 L1547.5,1265.8 L1549.0,1265.6 L1550.5,1265.3 L1552.0,1265.0 L1553.5,1264.8 L1555.0,1264.5 L1556.5,1264.2 L1558.0,1263.9 L1559.5,1263.6 L1561.0,1263.3 L1562.5,1262.9 L1564.0,1262.6 L1565.5,1262.3 L1567.0,1262.0 L1568.5,1261.6 L1570.0,1261.3 L1571.5,1260.9 L1573.0,1260.5 L1574.5,1260.2 L1576.0,1259.8 L1577.5,1259.4 L1579.0,1259.0 L1580.5,1258.6 L1582.0,1258.2 L1583.5,1257.8 L1585.0,1257.4 L1586.5,1256.9 L1588.0,1256.5 L1589.5,1256.1 L1591.0,1255.6 L1592.5,1255.2 L1594.0,1254.7 L1595.5,1254.2 L1597.0,1253.7 L1598.5,1253.2 L1600.0,1252.8 L1601.5,1252.3 L1603.0,1251.7 L1604.5,1251.2 L1606.0,1250.7 L1607.5,1250.2 L1609.0,1249.6 L1610.5,1249.1 L1612.0,1248.5 L1613.5,1248.0 L1615.0,1247.4 L1616.5,1246.8 L1618.0,1246.2 L1619.5,1245.6 L1621.0,1245.0 L1622.5,1244.4 L1624.0,1243.8 L1625.5,1243.2 L1627.0,1242.5 L1628.5,1241.9 L1630.0,1241.2 L1631.5,1240.6 L1633.0,1239.9 L1634.5,1239.2 L1636.0,1238.5 L1637.5,1237.8 L1639.0,1237.1 L1640.5,1236.4 L1642.0,1235.7 L1643.5,1235.0 L1645.0,1234.2 L1646.5,1233.5 L1648.0,1232.7 L1649.5,1231.9 L1651.0,1231.2 L1652.5,1230.4 L1654.0,1229.6 L1655.5,1228.8 L1657.0,1228.0 L1658.5,1227.2 L1660.0,1226.3 L1661.5,1225.5 L1663.0,1224.6 L1664.5,1223.8 L1666.0,1222.9 L1667.5,1222.0 L1669.0,1221.2 L1670.5,1220.3 L1672.0,1219.4 L1673.5,1218.4 L1675.0,1217.5 L1676.5,1216.6 L1678.0,1215.7 L1679.5,1214.7 L1681.0,1213.7 L1682.5,1212.8 L1684.0,1211.8 L1685.5,1210.8 L1687.0,1209.8 L1688.5,1208.8 L1690.0,1207.8 L1691.5,1206.7 L1693.0,1205.7 L1694.5,1204.6 L1696.0,1203.6 L1697.5,1202.5 L1699.0,1201.4 L1700.5,1200.3 L1702.0,1199.2 L1703.5,1198.1 L1705.0,1197.0 L1706.5,1195.9 L1708.0,1194.7 L1709.5,1193.6 L1711.0,1192.4 L1712.5,1191.2 L1714.0,1190.1 L1715.5,1188.9 L1717.0,1187.7 L1718.5,1186.4 L1720.0,1185.2 L1721.5,1184.0 L1723.0,1182.7 L1724.5,1181.5 L1726.0,1180.2 L1727.5,1178.9 L1729.0,1177.6 L1730.5,1176.3 L1732.0,1175.0 L1733.5,1173.7 L1735.0,1172.3 L1736.5,1171.0 L1738.0,1169.6 L1739.5,1168.3 L1741.0,1166.9 L1742.5,1165.5 L1744.0,1164.1 L1745.5,1162.7 L1747.0,1161.3 L1748.5,1159.8 L1750.0,1158.4 L1751.5,1156.9 L1753.0,1155.4 L1754.5,1153.9 L1756.0,1152.4 L1757.5,1150.9 L1759.0,1149.4 L1760.5,1147.9 L1762.0,1146.3 L1763.5,1144.8 L1765.0,1143.2 L1766.5,1141.6 L1768.0,1140.1 L1769.5,1138.4 L1771.0,1136.8 L1772.5,1135.2 L1774.0,1133.6 L1775.5,1131.9 L1777.0,1130.2 L1778.5,1128.6 L1780.0,1126.9 L1781.5,1125.2 L1783.0,1123.4 L1784.5,1121.7 L1786.0,1120.0 L1787.5,1118.2 L1789.0,1116.4 L1790.5,1114.6 L1792.0,1112.8 L1793.5,1110.9 L1795.0,1109.1 L1796.5,1107.2 L1798.0,1105.3 L1799.5,1103.4 L1801.0,1101.5 L1802.5,1099.5 L1804.0,1097.6 L1805.5,1095.6 L1807.0,1093.6 L1808.5,1091.6 L1810.0,1089.5 L1811.5,1087.4 L1813.0,1085.4 L1814.5,1083.2 L1816.0,1081.1 L1817.5,1078.9 L1819.0,1076.8 L1820.5,1074.6 L1822.0,1072.3 L1823.5,1070.1 L1825.0,1067.8 L1826.5,1065.5 L1828.0,1063.1 L1829.5,1060.8 L1831.0,1058.4 L1832.5,1056.0 L1834.0,1053.6 L1835.5,1051.1 L1837.0,1048.6 L1838.5,1046.1 L1840.0,1043.5 L1841.5,1041.0 L1843.0,1038.4 L1844.5,1035.7 L1846.0,1033.1 L1847.5,1030.4 L1849.0,1027.6 L1850.5,1024.9 L1852.0,1022.1 L1853.5,1019.3 L1855.0,1016.4 L1856.5,1013.5 L1858.0,1010.6 L1859.5,1007.7 L1861.0,1004.7 L1862.5,1001.7 L1864.0,998.6 L1865.5,995.5 L1867.0,992.4 L1868.5,989.2 L1870.0,986.0 L1871.5,982.8 L1873.0,979.6 L1874.5,976.3 L1876.0,972.9 L1877.5,969.5 L1879.0,966.1 L1880.5,962.7 L1882.0,959.2 L1883.5,955.7 L1885.0,952.1 L1886.5,948.5 L1888.0,944.8 L1889.5,941.1 L1891.0,937.4 L1892.5,933.6 L1894.0,929.8 L1895.5,926.0 L1897.0,922.1 L1898.5,918.2 L1900.0,914.2 L1901.5,910.2 L1903.0,906.1 L1904.5,902.1 L1906.0,897.9 L1907.5,893.8 L1909.0,889.6 L1910.5,885.4 L1912.0,881.1 L1913.5,876.8 L1915.0,872.5 L1916.5,868.1 L1918.0,863.7 L1919.5,859.3 L1921.0,854.8 L1922.5,850.3 L1924.0,845.8 L1925.5,841.2 L1927.0,836.7 L1928.5,832.0 L1930.0,827.4 L1931.5,822.7 L1933.0,818.0 L1934.5,813.3 L1936.0,808.5 L1937.5,803.7 L1939.0,798.9 L1940.5,794.1 L1942.0,789.2 L1943.5,784.3 L1945.0,779.4 L1946.5,774.4 L1948.0,769.5 L1949.5,764.5 L1951.0,759.4 L1952.5,754.4 L1954.0,749.3 L1955.5,744.3 L1957.0,739.2 L1958.5,734.0 L1960.0,728.9 L1961.5,723.7 L1963.0,718.5 L1964.5,713.3" fill="none" stroke="#0000ff" stroke-width="5" stroke-linejoin="round"/>
<path d="M271.0,361.0 L288.0,390.5 L254.0,390.5 Z" fill="#0000ff"/>
<path d="M373.8,671.6 L390.8,701.1 L356.8,701.1 Z" fill="#0000ff"/>
<path d="M476.5,1009.6 L493.5,1039.1 L459.5,1039.1 Z" fill="#0000ff"/>
<path d="M579.2,1188.7 L596.2,1218.2 L562.2,1218.2 Z" fill="#0000ff"/>
<path d="M682.0,1222.0 L699.0,1251.5 L665.0,1251.5 Z" fill="#0000ff"/>
<path d="M784.8,1205.3 L801.8,1234.8 L767.8,1234.8 Z" fill="#0000ff"/>
<path d="M887.5,1188.7 L904.5,1218.2 L870.5,1218.2 Z" fill="#0000ff"/>
<path d="M990.2,1184.8 L1007.2,1214.3 L973.2,1214.3 Z" fill="#0000ff"/>
<path d="M1093.0,1193.9 L1110.0,1223.4 L1076.0,1223.4 Z" fill="#0000ff"/>
<path d="M1195.8,1211.3 L1212.8,1240.8 L1178.8,1240.8 Z" fill="#0000ff"/>
<path d="M1298.5,1233.4 L1315.5,1262.9 L1281.5,1262.9 Z" fill="#0000ff"/>
<path d="M1401.2,1249.5 L1418.2,1279.0 L1384.2,1279.0 Z" fill="#0000ff"/>
<path d="M1504.0,1251.6 L1521.0,1281.1 L1487.0,1281.1 Z" fill="#0000ff"/>
<path d="M1606.8,1229.5 L1623.8,1259.0 L1589.8,1259.0 Z" fill="#0000ff"/>
<path d="M1709.5,1174.4 L1726.5,1203.9 L1692.5,1203.9 Z" fill="#0000ff"/>
<path d="M1812.2,1067.9 L1829.2,1097.4 L1795.2,1097.4 Z" fill="#0000ff"/>
<path d="M1915.0,850.0 L1932.0,879.5 L1898.0,879.5 Z" fill="#0000ff"/>
<line x1="271.0" y1="1313.0" x2="1964.5" y2="1313.0" stroke="#0000ff" stroke-width="5"/>
<circle cx="271.0" cy="1313.0" r="14.4" fill="#0000ff"/>
<circle cx="373.8" cy="1313.0" r="14.4" fill="#0000ff"/>
<circle cx="476.5" cy="1313.0" r="14.4" fill="#0000ff"/>
<circle cx="579.2" cy="1313.0" r="14.4" fill="#0000ff"/>
<circle cx="682.0" cy="1313.0" r="14.4" fill="#0000ff"/>
<circle cx="784.8" cy="1313.0" r="14.4" fill="#0000ff"/>
<circle cx="887.5" cy="1313.0" r="14.4" fill="#0000ff"/>
<circle cx="990.2" cy="1313.0" r="14.4" fill="#0000ff"/>
<circle cx="1093.0" cy="1313.0" r="14.4" fill="#0000ff"/>
<circle cx="1195.8" cy="1313.0" r="14.4" fill="#0000ff"/>
<circle cx="1298.5" cy="1313.0" r="14.4" fill="#0000ff"/>
<circle cx="1401.2" cy="1313.0" r="14.4" fill="#0000ff"/>
<circle cx="1504.0" cy="1313.0" r="14.4" fill="#0000ff"/>
<circle cx="1606.8" cy="1313.0" r="14.4" fill="#0000ff"/>
<circle cx="1709.5" cy="1313.0" r="14.4" fill="#0000ff"/>
<circle cx="1812.2" cy="1313.0" r="14.4" fill="#0000ff"/>
<circle cx="1915.0" cy="1313.0" r="14.4" fill="#0000ff"/>
</g>
<line x1="271" y1="185.3" x2="1964.5" y2="185.3" stroke="#ff0000" stroke-width="6" stroke-linecap="round" stroke-dasharray="18.5 25.42"/>
<line x1="271" y1="248.0" x2="1964.5" y2="248.0" stroke="#000" stroke-width="6" stroke-linecap="round" stroke-dasharray="18.5 25.42"/>
<g stroke-linecap="butt">
<line x1="268.1" y1="60.0" x2="1964.5" y2="60.0" stroke="#000" stroke-width="5.8"/>
<line x1="271.0" y1="57.1" x2="271.0" y2="1315.9" stroke="#000" stroke-width="5.8"/>
<line x1="268.1" y1="1313.0" x2="1964.5" y2="1313.0" stroke="#000" stroke-width="5.8"/>
<line x1="243.0" y1="1313.0" x2="271.0" y2="1313.0" stroke="#000" stroke-width="5.8"/>
<line x1="255.0" y1="1187.7" x2="271.0" y2="1187.7" stroke="#000" stroke-width="5.8"/>
<line x1="243.0" y1="1062.4" x2="271.0" y2="1062.4" stroke="#000" stroke-width="5.8"/>
<line x1="255.0" y1="937.1" x2="271.0" y2="937.1" stroke="#000" stroke-width="5.8"/>
<line x1="243.0" y1="811.8" x2="271.0" y2="811.8" stroke="#000" stroke-width="5.8"/>
<line x1="255.0" y1="686.5" x2="271.0" y2="686.5" stroke="#000" stroke-width="5.8"/>
<line x1="243.0" y1="561.2" x2="271.0" y2="561.2" stroke="#000" stroke-width="5.8"/>
<line x1="255.0" y1="435.9" x2="271.0" y2="435.9" stroke="#000" stroke-width="5.8"/>
<line x1="243.0" y1="310.6" x2="271.0" y2="310.6" stroke="#000" stroke-width="5.8"/>
<line x1="255.0" y1="185.3" x2="271.0" y2="185.3" stroke="#000" stroke-width="5.8"/>
<line x1="243.0" y1="60.0" x2="271.0" y2="60.0" stroke="#000" stroke-width="5.8"/>
<line x1="271.0" y1="1313.0" x2="271.0" y2="1341.0" stroke="#000" stroke-width="5.8"/>
<line x1="392.0" y1="1313.0" x2="392.0" y2="1329.0" stroke="#000" stroke-width="5.8"/>
<line x1="512.9" y1="1313.0" x2="512.9" y2="1341.0" stroke="#000" stroke-width="5.8"/>
<line x1="633.9" y1="1313.0" x2="633.9" y2="1329.0" stroke="#000" stroke-width="5.8"/>
<line x1="754.9" y1="1313.0" x2="754.9" y2="1341.0" stroke="#000" stroke-width="5.8"/>
<line x1="875.8" y1="1313.0" x2="875.8" y2="1329.0" stroke="#000" stroke-width="5.8"/>
<line x1="996.8" y1="1313.0" x2="996.8" y2="1341.0" stroke="#000" stroke-width="5.8"/>
<line x1="1117.8" y1="1313.0" x2="1117.8" y2="1329.0" stroke="#000" stroke-width="5.8"/>
<line x1="1238.7" y1="1313.0" x2="1238.7" y2="1341.0" stroke="#000" stroke-width="5.8"/>
<line x1="1359.7" y1="1313.0" x2="1359.7" y2="1329.0" stroke="#000" stroke-width="5.8"/>
<line x1="1480.6" y1="1313.0" x2="1480.6" y2="1341.0" stroke="#000" stroke-width="5.8"/>
<line x1="1601.6" y1="1313.0" x2="1601.6" y2="1329.0" stroke="#000" stroke-width="5.8"/>
<line x1="1722.6" y1="1313.0" x2="1722.6" y2="1341.0" stroke="#000" stroke-width="5.8"/>
<line x1="1843.5" y1="1313.0" x2="1843.5" y2="1329.0" stroke="#000" stroke-width="5.8"/>
<line x1="1964.5" y1="1313.0" x2="1964.5" y2="1341.0" stroke="#000" stroke-width="5.8"/>
<line x1="1964.5" y1="57.1" x2="1964.5" y2="1315.9" stroke="#0000ff" stroke-width="6.6"/>
<line x1="1964.5" y1="1313.0" x2="1992.5" y2="1313.0" stroke="#0000ff" stroke-width="5.8"/>
<line x1="1964.5" y1="1187.7" x2="1980.5" y2="1187.7" stroke="#0000ff" stroke-width="5.8"/>
<line x1="1964.5" y1="1062.4" x2="1992.5" y2="1062.4" stroke="#0000ff" stroke-width="5.8"/>
<line x1="1964.5" y1="937.1" x2="1980.5" y2="937.1" stroke="#0000ff" stroke-width="5.8"/>
<line x1="1964.5" y1="811.8" x2="1992.5" y2="811.8" stroke="#0000ff" stroke-width="5.8"/>
<line x1="1964.5" y1="686.5" x2="1980.5" y2="686.5" stroke="#0000ff" stroke-width="5.8"/>
<line x1="1964.5" y1="561.2" x2="1992.5" y2="561.2" stroke="#0000ff" stroke-width="5.8"/>
<line x1="1964.5" y1="435.9" x2="1980.5" y2="435.9" stroke="#0000ff" stroke-width="5.8"/>
<line x1="1964.5" y1="310.6" x2="1992.5" y2="310.6" stroke="#0000ff" stroke-width="5.8"/>
<line x1="1964.5" y1="185.3" x2="1980.5" y2="185.3" stroke="#0000ff" stroke-width="5.8"/>
<line x1="1964.5" y1="60.0" x2="1992.5" y2="60.0" stroke="#0000ff" stroke-width="5.8"/>
</g>
<line x1="443.0" y1="154.9" x2="487.8" y2="206.7" stroke="#000" stroke-width="3"/>
<path d="M508.1,230.1 L480.2,210.6 L492.8,199.7 Z" fill="#000"/>
<line x1="614.4" y1="317.2" x2="652.1" y2="175.4" stroke="#000" stroke-width="3"/>
<path d="M660.1,145.4 L660.3,179.6 L642.9,175.0 Z" fill="#000"/>
<line x1="1572.0" y1="267.8" x2="1488.1" y2="142.6" stroke="#000" stroke-width="3"/>
<path d="M1470.8,116.8 L1496.1,139.6 L1482.3,148.8 Z" fill="#000"/>
<line x1="1865.8" y1="151.1" x2="1814.8" y2="206.1" stroke="#000" stroke-width="3"/>
<path d="M1793.7,228.8 L1810.1,199.0 L1822.2,210.3 Z" fill="#000"/>
<text x="140.11" y="1332.50" fill="#000" style="font-size:75px;letter-spacing:-1.5px">0.0</text>
<text x="2005.74" y="1332.50" fill="#0000ff" style="font-size:75px;letter-spacing:-1.5px">0.0</text>
<text x="141.39" y="1081.90" fill="#000" style="font-size:75px;letter-spacing:-1.5px">0.2</text>
<text x="2005.74" y="1081.90" fill="#0000ff" style="font-size:75px;letter-spacing:-1.5px">0.2</text>
<text x="138.42" y="831.30" fill="#000" style="font-size:75px;letter-spacing:-1.5px">0.4</text>
<text x="2005.74" y="831.30" fill="#0000ff" style="font-size:75px;letter-spacing:-1.5px">0.4</text>
<text x="139.48" y="580.70" fill="#000" style="font-size:75px;letter-spacing:-1.5px">0.6</text>
<text x="2005.74" y="580.70" fill="#0000ff" style="font-size:75px;letter-spacing:-1.5px">0.6</text>
<text x="140.11" y="330.10" fill="#000" style="font-size:75px;letter-spacing:-1.5px">0.8</text>
<text x="2005.74" y="330.10" fill="#0000ff" style="font-size:75px;letter-spacing:-1.5px">0.8</text>
<text x="140.11" y="79.50" fill="#000" style="font-size:75px;letter-spacing:-1.5px">1.0</text>
<text x="2002.01" y="79.50" fill="#0000ff" style="font-size:75px;letter-spacing:-1.5px">1.0</text>
<text x="252.25" y="1408.50" fill="#000" style="font-size:75px">4</text>
<text x="494.18" y="1408.50" fill="#000" style="font-size:75px">6</text>
<text x="736.11" y="1408.50" fill="#000" style="font-size:75px">8</text>
<text x="960.79" y="1408.50" fill="#000" style="font-size:75px;letter-spacing:-3px">10</text>
<text x="1202.71" y="1408.50" fill="#000" style="font-size:75px;letter-spacing:-3px">12</text>
<text x="1444.64" y="1408.50" fill="#000" style="font-size:75px;letter-spacing:-3px">14</text>
<text x="1686.57" y="1408.50" fill="#000" style="font-size:75px;letter-spacing:-3px">16</text>
<text x="1928.50" y="1408.50" fill="#000" style="font-size:75px;letter-spacing:-3px">18</text>
<text x="352.78" y="130.00" fill="#000" style="font-size:75px;letter-spacing:-1.55px">6.0GHz</text>
<text x="575.86" y="373.00" fill="#000" style="font-size:75px;letter-spacing:-1.2px">7.3GHz</text>
<text x="1483.41" y="340.80" fill="#000" style="font-size:75px;letter-spacing:-2.2px">13.9GHz</text>
<text x="1655.41" y="133.60" fill="#000" style="font-size:75px;letter-spacing:-2.2px">16.5GHz</text>
<line x1="1242.2" y1="650.4" x2="1407.9" y2="650.4" stroke="#000" stroke-width="3"/>
<rect x="1312" y="638" width="25.6" height="26" fill="#000"/>
<line x1="1244.7" y1="740" x2="1405.4" y2="740" stroke="#0000ff" stroke-width="5" stroke-linecap="round"/>
<path d="M1325,721 L1342.4,751 L1307.7,751 Z" fill="#0000ff"/>
<line x1="1244.7" y1="829.2" x2="1405.4" y2="829.2" stroke="#0000ff" stroke-width="5" stroke-linecap="round"/>
<circle cx="1324.8" cy="830" r="14.2" fill="#0000ff"/>
<text x="1424.27" y="675.50" fill="#000" style="font-size:75px;letter-spacing:-1.6px">Absorptance</text>
<text x="1424.24" y="763.70" fill="#000" style="font-size:75px;letter-spacing:-1.6px">Reflectance</text>
<text x="1425.65" y="852.50" fill="#000" style="font-size:75px;letter-spacing:-1.6px">Transmittance</text>
<text x="846.62" y="1539.80" fill="#000" style="font-size:79px;letter-spacing:-0.85px">Frequency (GHz)</text>
<text x="-938.38" y="75" transform="rotate(-90)" style="font-size:79.4px">Absorptance</text>
<text x="-1152.23" y="2188" transform="rotate(-90)" style="font-size:79.4px">Transmittance/Reflectance</text>
</svg>
</body></html>
